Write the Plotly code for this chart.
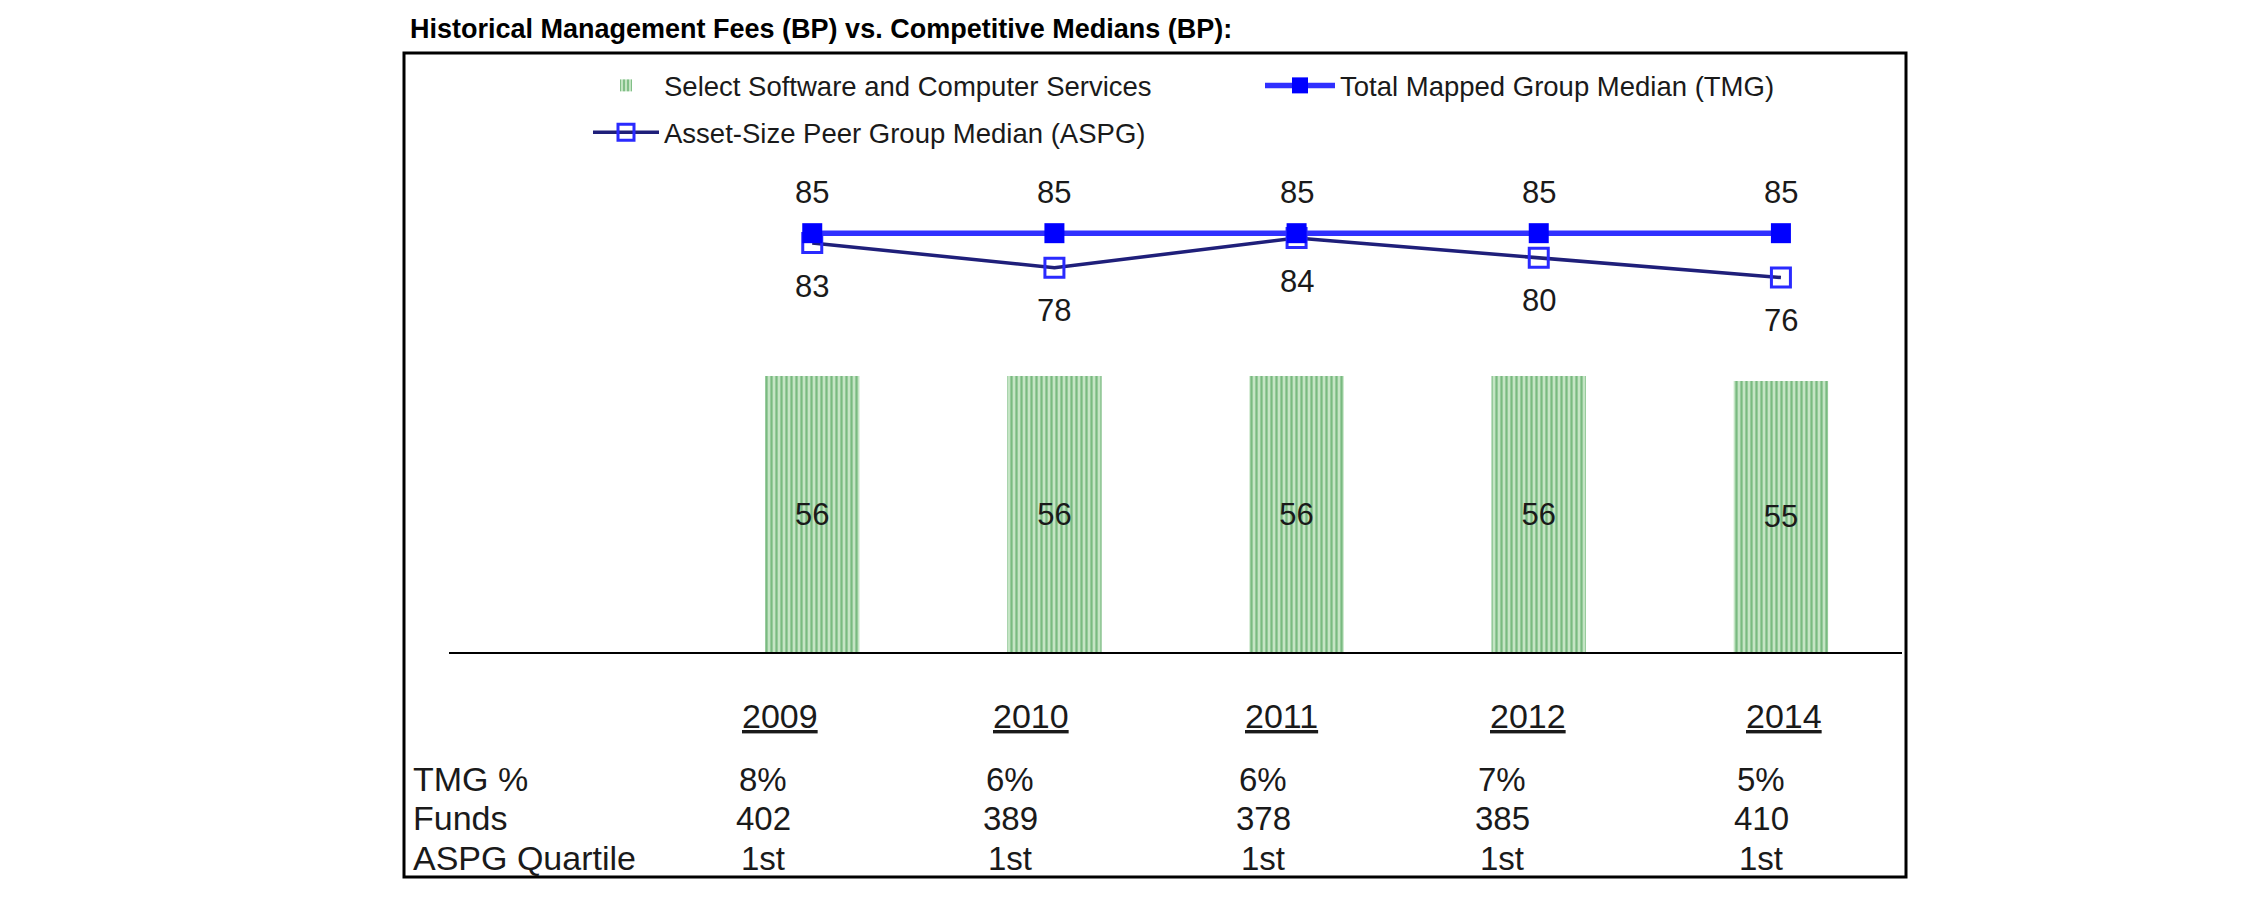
import plotly.graph_objects as go

# ---------------- data ----------------
years = ["2009", "2010", "2011", "2012", "2014"]
select_sw = [56, 56, 56, 56, 55]
tmg_median = [85, 85, 85, 85, 85]
aspg_median = [83, 78, 84, 80, 76]
tmg_pct = ["8%", "6%", "6%", "7%", "5%"]
funds = ["402", "389", "378", "385", "410"]
aspg_quartile = ["1st", "1st", "1st", "1st", "1st"]
row_labels = ["TMG %", "Funds", "ASPG Quartile"]

# ---------------- layout constants (pixels of the page) ----------------
W, H = 2251, 898
OFF = 8                       # default body margin of the html page
FW, FH = W - OFF, H - OFF     # figure size so the page does not overflow
PL, PR, PT, PB = 449, 1902, 110, 652
YMAX = 110
FONT = "Arial, 'Liberation Sans', sans-serif"
TXT = "#1a1a1a"

year_cols_px = [780, 1031, 1281, 1528, 1784]
value_cols_px = [763, 1010, 1263, 1502, 1761]
row_y_px = [779, 818, 858]


def px_x(p):
    return (p - PL) / (PR - PL)


def px_y(p):
    return (PB - p) / (PB - PT)


fig = go.Figure()

fig.add_trace(go.Bar(
    x=years, y=select_sw, name="Select Software and Computer Services",
    width=0.39,
    marker=dict(color="#c2e4c2", line=dict(width=0),
                pattern=dict(shape="|", fgcolor="#2d8f3c", bgcolor="#c4e5c4",
                             size=5, solidity=0.45)),
    text=[str(v) for v in select_sw], textposition="inside",
    insidetextanchor="middle", constraintext="none", textangle=0,
    textfont=dict(size=31, color=TXT, family=FONT),
    legend="legend", legendgroup="g1", hoverinfo="skip",
))

fig.add_trace(go.Scatter(
    x=years, y=aspg_median, name="Asset-Size Peer Group Median (ASPG)",
    mode="lines+markers",
    line=dict(color="#1f1f7a", width=3.5),
    marker=dict(symbol="square-open", size=19, color="#2a2aff",
                line=dict(width=3, color="#2a2aff")),
    legend="legend", legendgroup="g2", hoverinfo="skip",
))

fig.add_trace(go.Scatter(
    x=years, y=tmg_median, name="Total Mapped Group Median (TMG)",
    mode="lines+markers",
    line=dict(color="#3030ff", width=5.5),
    marker=dict(symbol="square", size=20, color="#0000ff"),
    legend="legend2", legendgroup="g3", hoverinfo="skip",
))

annotations = []
# category axes take the category index for annotation positions
for i, v in enumerate(tmg_median):
    annotations.append(dict(x=i, y=v, xref="x", yref="y", text=str(v),
                            showarrow=False, yshift=41,
                            font=dict(size=31, color=TXT, family=FONT)))
for i, v in enumerate(aspg_median):
    annotations.append(dict(x=i, y=v, xref="x", yref="y", text=str(v),
                            showarrow=False, yshift=-43,
                            font=dict(size=31, color=TXT, family=FONT)))

# table below the chart
for yr, cx in zip(years, year_cols_px):
    annotations.append(dict(x=px_x(cx), y=px_y(716), xref="paper", yref="paper",
                            text=f"<u>{yr}</u>", showarrow=False,
                            xanchor="center", yanchor="middle",
                            font=dict(size=34, color=TXT, family=FONT)))
for lab, ry in zip(row_labels, row_y_px):
    annotations.append(dict(x=px_x(411), y=px_y(ry), xref="paper", yref="paper",
                            text=lab, showarrow=False,
                            xanchor="left", yanchor="middle",
                            font=dict(size=34, color=TXT, family=FONT)))
for row, ry in zip([tmg_pct, funds, aspg_quartile], row_y_px):
    for val, cx in zip(row, value_cols_px):
        annotations.append(dict(x=px_x(cx), y=px_y(ry), xref="paper", yref="paper",
                                text=val, showarrow=False,
                                xanchor="center", yanchor="middle",
                                font=dict(size=33, color=TXT, family=FONT)))

shapes = [dict(type="rect", xref="paper", yref="paper",
               x0=px_x(404), x1=px_x(1906), y0=px_y(877), y1=px_y(53),
               line=dict(color="black", width=3), fillcolor="rgba(0,0,0,0)",
               layer="above")]

fig.update_layout(
    width=FW, height=FH,
    margin=dict(l=PL - OFF, r=W - PR, t=PT - OFF, b=H - PB, pad=0),
    paper_bgcolor="white", plot_bgcolor="white",
    font=dict(family=FONT, color=TXT),
    title=dict(text="<b>Historical Management Fees (BP) vs. Competitive Medians (BP):</b>",
               x=(410 - OFF) / FW, xanchor="left", y=1 - (29 - OFF) / FH,
               yanchor="middle", xref="container", yref="container",
               font=dict(size=27, color="black", family=FONT)),
    xaxis=dict(type="category", range=[-1.5, 4.5], showticklabels=False,
               ticks="", showgrid=False, zeroline=False,
               showline=True, linecolor="black", linewidth=2, fixedrange=True),
    yaxis=dict(range=[0, YMAX], visible=False, fixedrange=True),
    showlegend=True,
    legend=dict(x=px_x(588), y=px_y(61), xanchor="left", yanchor="top",
                orientation="v", itemwidth=66, tracegroupgap=8,
                traceorder="grouped",
                font=dict(size=27.5, color=TXT, family=FONT),
                bgcolor="rgba(0,0,0,0)"),
    legend2=dict(x=px_x(1260), y=px_y(61), xanchor="left", yanchor="top",
                 orientation="v", itemwidth=70,
                 font=dict(size=27.5, color=TXT, family=FONT),
                 bgcolor="rgba(0,0,0,0)"),
    annotations=annotations,
    shapes=shapes,
)

fig.write_html("out.html")
